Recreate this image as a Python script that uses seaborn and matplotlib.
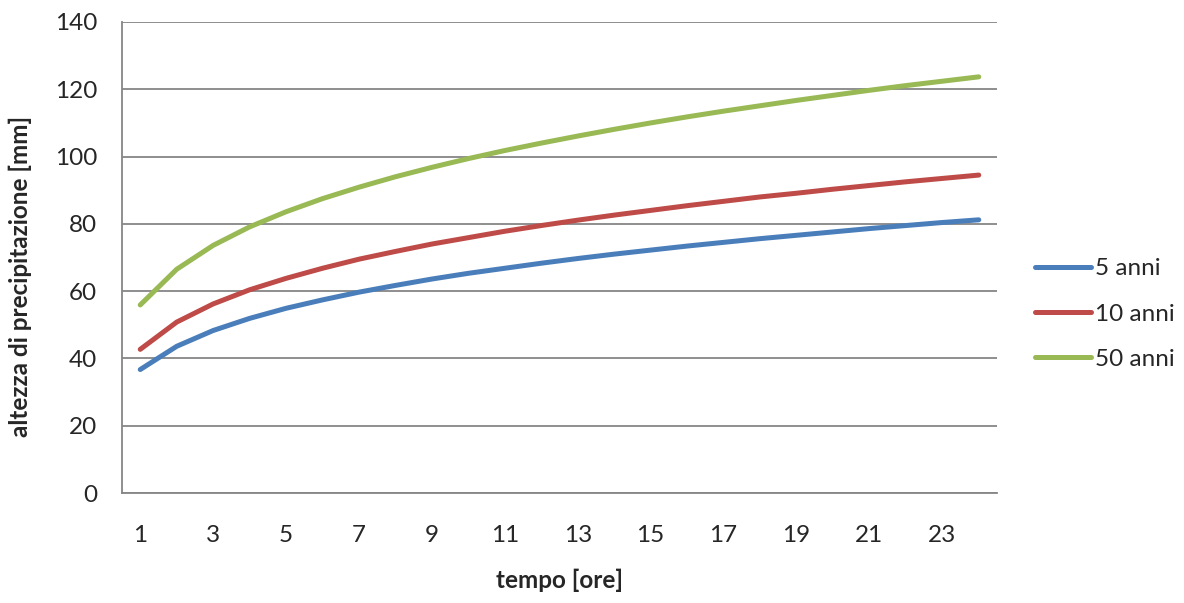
import matplotlib
matplotlib.use("Agg")
import matplotlib.pyplot as plt
import seaborn as sns
import pandas as pd

hours = list(range(1, 25))
anni_5 = [36.7, 43.6, 48.3, 51.9, 54.9, 57.4, 59.7, 61.7, 63.6, 65.3, 66.8, 68.3,
          69.7, 71.0, 72.2, 73.4, 74.5, 75.6, 76.6, 77.6, 78.6, 79.5, 80.4, 81.2]
anni_10 = [42.7, 50.8, 56.2, 60.4, 63.8, 66.8, 69.5, 71.8, 74.0, 75.9, 77.8, 79.5,
           81.1, 82.6, 84.0, 85.4, 86.7, 88.0, 89.1, 90.3, 91.4, 92.5, 93.5, 94.5]
anni_50 = [55.9, 66.5, 73.6, 79.1, 83.6, 87.5, 90.9, 94.0, 96.8, 99.4, 101.8, 104.0,
           106.1, 108.1, 110.0, 111.8, 113.5, 115.1, 116.7, 118.2, 119.7, 121.1, 122.4, 123.7]
series_names = ["5 anni", "10 anni", "50 anni"]
colors = ["#4A7EBB", "#BE4B48", "#98B954"]
xtick_labels = [str(h) for h in range(1, 24, 2)]
yticks = list(range(0, 141, 20))

df = pd.concat([
    pd.DataFrame({"tempo": hours, "h": vals, "serie": name})
    for name, vals in zip(series_names, [anni_5, anni_10, anni_50])
])

sns.set_style("white")
plt.rcParams["font.family"] = ["Lato", "DejaVu Sans"]

FS = 17.5
fig = plt.figure(figsize=(11.84, 6.03), dpi=100)
ax = fig.add_axes([122/1184, 1 - 493/603, (997-122)/1184, (493-22)/603])

sns.lineplot(data=df, x="tempo", y="h", hue="serie", palette=colors,
             hue_order=series_names, linewidth=3.6, ax=ax, legend=False,
             solid_capstyle="round")

ax.set_xlim(0.5, 24.5)
ax.set_ylim(0, 140)
ax.set_yticks(yticks)
ax.set_xticks(range(1, 24, 2))
ax.set_xticklabels(xtick_labels)
ax.yaxis.grid(True, color="#868686", linewidth=1.3)
ax.set_axisbelow(True)
for s in ["top", "right"]:
    ax.spines[s].set_visible(False)
for s in ["left", "bottom"]:
    ax.spines[s].set_color("#868686")
    ax.spines[s].set_linewidth(1.3)
ax.tick_params(axis="y", length=3, color="#868686", width=1.3, labelsize=FS, pad=15)
ax.tick_params(axis="x", length=0, labelsize=FS, pad=23)

ax.set_xlabel("tempo [ore]", fontsize=FS, fontweight="bold", labelpad=16)
ax.set_ylabel("altezza di precipitazione [mm]", fontsize=FS, fontweight="bold")
ax.yaxis.set_label_coords(-0.103, 0.46)

handles = [plt.Line2D([], [], color=c, linewidth=3.6, solid_capstyle="round") for c in colors]
leg = ax.legend(handles, series_names, loc="center left", bbox_to_anchor=(1.043, 0.38),
                frameon=False, fontsize=FS, handlelength=2.3, handletextpad=0.2,
                labelspacing=1.0, borderaxespad=0, borderpad=0)

fig.savefig("out.png", dpi=100)
